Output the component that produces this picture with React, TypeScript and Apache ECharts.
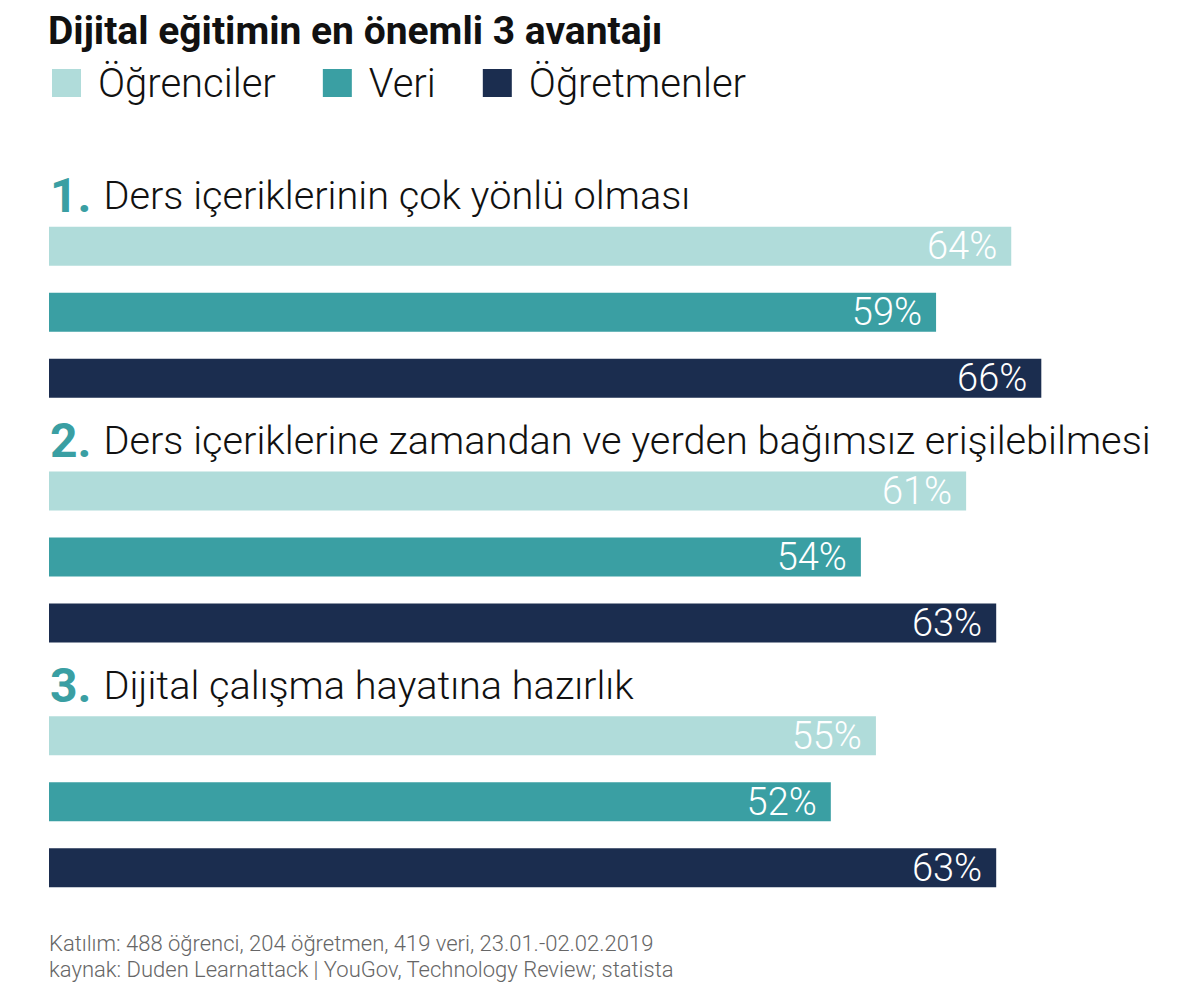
import React, { useEffect, useRef } from "react";
import * as echarts from "echarts";

const TITLE = "Dijital eğitimin en önemli 3 avantajı";
const categories = [
  "Ders içeriklerinin çok yönlü olması",
  "Ders içeriklerine zamandan ve yerden bağımsız erişilebilmesi",
  "Dijital çalışma hayatına hazırlık",
];
const seriesNames = ["Öğrenciler", "Veri", "Öğretmenler"];
const ogrenciler = [64, 61, 55];
const veri = [59, 54, 52];
const ogretmenler = [66, 63, 63];
const seriesValues = [ogrenciler, veri, ogretmenler];
const colors = ["#b0dcda", "#3a9fa3", "#1b2d4f"];
const footerLines = [
  "Katılım: 488 öğrenci, 204 öğretmen, 419 veri, 23.01.-02.02.2019",
  "kaynak: Duden Learnattack | YouGov, Technology Review; statista",
];

const FONT = "Roboto, 'Noto Sans', sans-serif";
const GRID_LEFT = 49;
const GRID_TOP = 190;
const GRID_HEIGHT = 734;
const X_MAX = 70;
const PX_PER_UNIT = 15.035;
const BAR_W = 39;
const BAR_STEP = 66;

export default function App() {
  const ref = useRef<HTMLDivElement>(null);
  useEffect(() => {
    document.body.style.margin = "0";
    if (!ref.current) return;
    const chart = echarts.init(ref.current, undefined, { renderer: "svg" });
    const band = GRID_HEIGHT / categories.length;
    const groupSpan = BAR_W * 3 + (BAR_STEP - BAR_W) * 2;
    const headers = categories.map((c, i) => {
      const barTop = GRID_TOP + i * band + (band - groupSpan) / 2;
      return {
        type: "text",
        left: GRID_LEFT + 1,
        top: barTop - 55,
        style: {
          text: `{n|${i + 1}.}{t|${c}}`,
          rich: {
            n: { fontSize: 48, fontWeight: "bold", fill: "#3a9fa3", fontFamily: FONT, padding: [0, 12, 0, 0] },
            t: { fontSize: 39.7, fontWeight: 300, fill: "#111", fontFamily: FONT },
          },
        },
      };
    });
    chart.setOption({
      animation: false,
      backgroundColor: "#fff",
      title: {
        text: TITLE,
        left: 48,
        top: 11,
        padding: 0,
        textStyle: { fontSize: 39, fontWeight: "bold", color: "#111", fontFamily: FONT },
      },
      legend: {
        left: 52,
        top: 63,
        padding: 0,
        icon: "rect",
        itemWidth: 29,
        itemHeight: 28,
        itemGap: 47,
        selectedMode: false,
        textStyle: {
          fontSize: 40,
          fontWeight: 300,
          color: "#111",
          fontFamily: FONT,
          padding: [0, 0, 0, 12],
        },
        data: seriesNames,
      },
      grid: {
        left: GRID_LEFT,
        top: GRID_TOP,
        height: GRID_HEIGHT,
        width: X_MAX * PX_PER_UNIT,
        containLabel: false,
      },
      xAxis: { type: "value", min: 0, max: X_MAX, show: false },
      yAxis: { type: "category", data: categories, inverse: true, show: false },
      series: seriesNames.map((name, si) => ({
        name,
        type: "bar",
        data: seriesValues[si],
        barWidth: BAR_W,
        barGap: `${((BAR_STEP - BAR_W) / BAR_W) * 100}%`,
        itemStyle: { color: colors[si] },
        label: {
          show: true,
          position: "insideRight",
          distance: 14,
          formatter: "{c}%",
          color: "#fff",
          fontSize: 38,
          fontWeight: 300,
          fontFamily: FONT,
        },
      })),
      graphic: [
        ...headers,
        {
          type: "text",
          left: GRID_LEFT,
          top: 930,
          style: {
            text: footerLines.join("\n"),
            fontSize: 22,
            lineHeight: 26,
            fontWeight: 300,
            fill: "#666",
            fontFamily: FONT,
          },
        },
      ],
    });
    return () => chart.dispose();
  }, []);
  return <div ref={ref} style={{ width: 1180, height: 1004 }} />;
}
